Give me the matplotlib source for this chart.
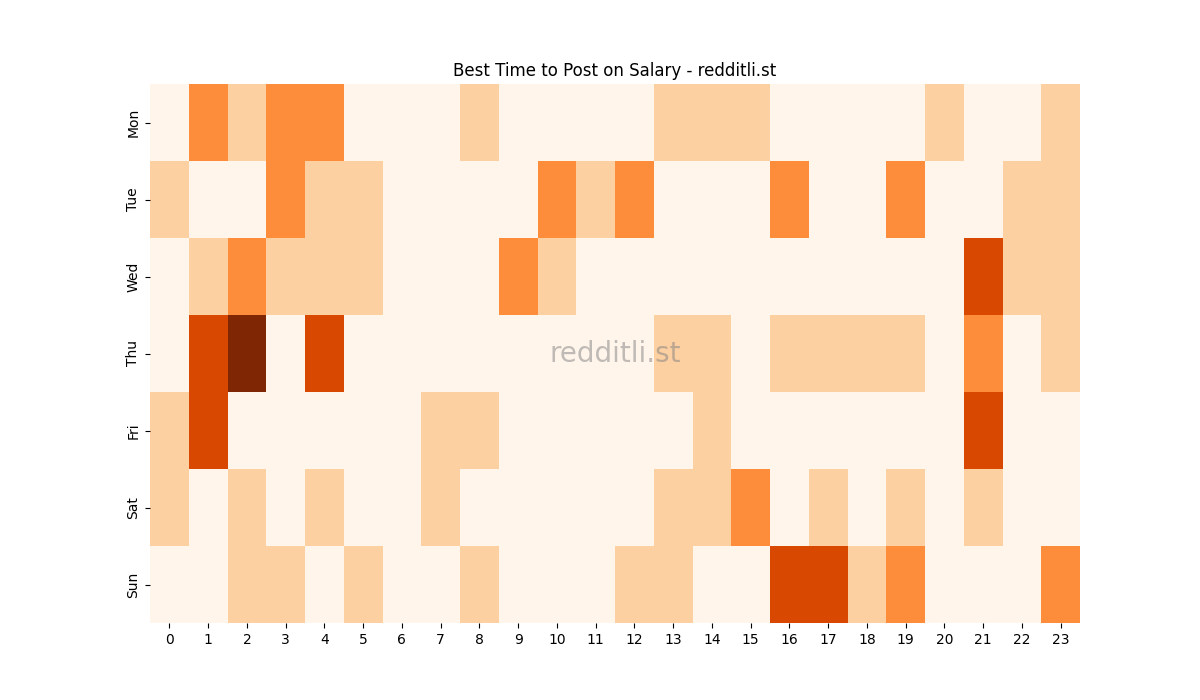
import numpy as np
import matplotlib
matplotlib.use("Agg")
import matplotlib.pyplot as plt
import seaborn as sns

days = ["Mon", "Tue", "Wed", "Thu", "Fri", "Sat", "Sun"]
hours = list(range(24))

# post activity score per day (rows) and hour (columns)
mon = [0, 2, 1, 2, 2, 0, 0, 0, 1, 0, 0, 0, 0, 1, 1, 1, 0, 0, 0, 0, 1, 0, 0, 1]
tue = [1, 0, 0, 2, 1, 1, 0, 0, 0, 0, 2, 1, 2, 0, 0, 0, 2, 0, 0, 2, 0, 0, 1, 1]
wed = [0, 1, 2, 1, 1, 1, 0, 0, 0, 2, 1, 0, 0, 0, 0, 0, 0, 0, 0, 0, 0, 3, 1, 1]
thu = [0, 3, 4, 0, 3, 0, 0, 0, 0, 0, 0, 0, 0, 1, 1, 0, 1, 1, 1, 1, 0, 2, 0, 1]
fri = [1, 3, 0, 0, 0, 0, 0, 1, 1, 0, 0, 0, 0, 0, 1, 0, 0, 0, 0, 0, 0, 3, 0, 0]
sat = [1, 0, 1, 0, 1, 0, 0, 1, 0, 0, 0, 0, 0, 1, 1, 2, 0, 1, 0, 1, 0, 1, 0, 0]
sun = [0, 0, 1, 1, 0, 1, 0, 0, 1, 0, 0, 0, 1, 1, 0, 0, 3, 3, 1, 2, 0, 0, 0, 2]

data = np.array([mon, tue, wed, thu, fri, sat, sun])

fig, ax = plt.subplots(figsize=(12, 7), dpi=100)
sns.heatmap(data, cmap="Oranges", cbar=False, ax=ax,
            xticklabels=hours, yticklabels=days)
ax.set_title("Best Time to Post on Salary - redditli.st")
ax.text(0.5, 0.5, "redditli.st", transform=ax.transAxes,
        ha="center", va="center", fontsize=20, color="gray", alpha=0.5)
plt.savefig("out.png")
